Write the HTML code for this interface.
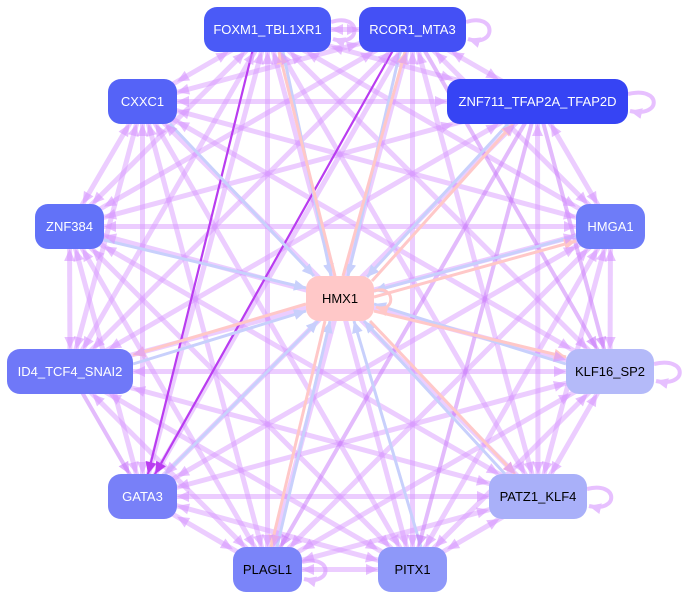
<!DOCTYPE html>
<html>
<head>
<meta charset="utf-8">
<style>
  html,body{margin:0;padding:0;background:#fff;}
  body{width:686px;height:599px;overflow:hidden;}
  svg{display:block;}
  text{font-family:"Liberation Sans",Arial,sans-serif;font-size:13px;}
</style>
</head>
<body>
<svg id="s" width="686" height="599" viewBox="0 0 686 599" xmlns="http://www.w3.org/2000/svg">
  <defs>
    <marker id="mb" markerUnits="userSpaceOnUse" markerWidth="13" markerHeight="11" refX="12" refY="5.5" orient="auto">
      <path d="M0,0 L12,5.5 L0,11 z" fill="#c8d0fc"/>
    </marker>
    <marker id="mp" markerUnits="userSpaceOnUse" markerWidth="13" markerHeight="11" refX="12" refY="5.5" orient="auto">
      <path d="M0,0 L12,5.5 L0,11 z" fill="#ffc8c8"/>
    </marker>
    <marker id="ml" markerUnits="userSpaceOnUse" markerWidth="13" markerHeight="11" refX="12" refY="5.5" orient="auto">
      <path d="M0,0 L12,5.5 L0,11 z" fill="#e6c0ff"/>
    </marker>
  </defs>

  <g id="pe" stroke="rgb(215,150,255)" stroke-opacity="0.48" stroke-width="5" fill="none">
    <line x1="267.5" y1="29.5" x2="412.5" y2="29.5"/>
    <line x1="267.5" y1="29.5" x2="537.5" y2="101.5"/>
    <line x1="267.5" y1="29.5" x2="142.5" y2="101.5"/>
    <line x1="267.5" y1="29.5" x2="69.5" y2="226.5"/>
    <line x1="267.5" y1="29.5" x2="610.5" y2="226.5"/>
    <line x1="267.5" y1="29.5" x2="70" y2="371.5"/>
    <line x1="267.5" y1="29.5" x2="610" y2="371.5"/>
    <line x1="267.5" y1="29.5" x2="538" y2="496.5"/>
    <line x1="267.5" y1="29.5" x2="267.5" y2="569.5"/>
    <line x1="267.5" y1="29.5" x2="412.5" y2="569.5"/>
    <line x1="267.5" y1="29.5" x2="142.5" y2="496.5"/>
    <line x1="412.5" y1="29.5" x2="537.5" y2="101.5"/>
    <line x1="412.5" y1="29.5" x2="142.5" y2="101.5"/>
    <line x1="412.5" y1="29.5" x2="69.5" y2="226.5"/>
    <line x1="412.5" y1="29.5" x2="610.5" y2="226.5"/>
    <line x1="412.5" y1="29.5" x2="70" y2="371.5"/>
    <line x1="412.5" y1="29.5" x2="538" y2="496.5"/>
    <line x1="412.5" y1="29.5" x2="267.5" y2="569.5"/>
    <line x1="412.5" y1="29.5" x2="412.5" y2="569.5"/>
    <line x1="412.5" y1="29.5" x2="142.5" y2="496.5"/>
    <line x1="537.5" y1="101.5" x2="142.5" y2="101.5"/>
    <line x1="537.5" y1="101.5" x2="69.5" y2="226.5"/>
    <line x1="537.5" y1="101.5" x2="610.5" y2="226.5"/>
    <line x1="537.5" y1="101.5" x2="70" y2="371.5"/>
    <line x1="537.5" y1="101.5" x2="142.5" y2="496.5"/>
    <line x1="537.5" y1="101.5" x2="538" y2="496.5"/>
    <line x1="142.5" y1="101.5" x2="69.5" y2="226.5"/>
    <line x1="142.5" y1="101.5" x2="610.5" y2="226.5"/>
    <line x1="142.5" y1="101.5" x2="70" y2="371.5"/>
    <line x1="142.5" y1="101.5" x2="610" y2="371.5"/>
    <line x1="142.5" y1="101.5" x2="142.5" y2="496.5"/>
    <line x1="142.5" y1="101.5" x2="538" y2="496.5"/>
    <line x1="142.5" y1="101.5" x2="267.5" y2="569.5"/>
    <line x1="142.5" y1="101.5" x2="412.5" y2="569.5"/>
    <line x1="69.5" y1="226.5" x2="610.5" y2="226.5"/>
    <line x1="69.5" y1="226.5" x2="70" y2="371.5"/>
    <line x1="69.5" y1="226.5" x2="610" y2="371.5"/>
    <line x1="69.5" y1="226.5" x2="142.5" y2="496.5"/>
    <line x1="69.5" y1="226.5" x2="538" y2="496.5"/>
    <line x1="69.5" y1="226.5" x2="267.5" y2="569.5"/>
    <line x1="69.5" y1="226.5" x2="412.5" y2="569.5"/>
    <line x1="610.5" y1="226.5" x2="70" y2="371.5"/>
    <line x1="610.5" y1="226.5" x2="610" y2="371.5"/>
    <line x1="610.5" y1="226.5" x2="142.5" y2="496.5"/>
    <line x1="610.5" y1="226.5" x2="538" y2="496.5"/>
    <line x1="610.5" y1="226.5" x2="267.5" y2="569.5"/>
    <line x1="610.5" y1="226.5" x2="412.5" y2="569.5"/>
    <line x1="70" y1="371.5" x2="610" y2="371.5"/>
    <line x1="70" y1="371.5" x2="538" y2="496.5"/>
    <line x1="70" y1="371.5" x2="267.5" y2="569.5"/>
    <line x1="70" y1="371.5" x2="412.5" y2="569.5"/>
    <line x1="610" y1="371.5" x2="142.5" y2="496.5"/>
    <line x1="610" y1="371.5" x2="538" y2="496.5"/>
    <line x1="610" y1="371.5" x2="267.5" y2="569.5"/>
    <line x1="610" y1="371.5" x2="412.5" y2="569.5"/>
    <line x1="142.5" y1="496.5" x2="538" y2="496.5"/>
    <line x1="142.5" y1="496.5" x2="267.5" y2="569.5"/>
    <line x1="142.5" y1="496.5" x2="412.5" y2="569.5"/>
    <line x1="538" y1="496.5" x2="267.5" y2="569.5"/>
    <line x1="538" y1="496.5" x2="412.5" y2="569.5"/>
    <line x1="267.5" y1="569.5" x2="412.5" y2="569.5"/>
  </g>

  <g id="pm" stroke="rgb(200,120,250)" stroke-opacity="0.5" stroke-width="4" fill="none">
    <line x1="537.5" y1="101.5" x2="267.5" y2="569.5"/>
    <line x1="537.5" y1="101.5" x2="412.5" y2="569.5"/>
    <line x1="412.5" y1="29.5" x2="610" y2="371.5"/>
    <line x1="537.5" y1="101.5" x2="610" y2="371.5"/>
    <line x1="70" y1="371.5" x2="142.5" y2="496.5"/>
  </g>

  <g id="pb" stroke="#b93cf0" stroke-width="2.2" fill="none">
    <line x1="254" y1="45" x2="142.5" y2="496.5"/>
    <line x1="396" y1="45" x2="142.5" y2="496.5"/>
  </g>

  <g stroke="#c8d0fc" stroke-width="3" fill="none" marker-end="url(#mb)">
    <line x1="170" y1="124" x2="314" y2="276"/>
    <line x1="104" y1="240" x2="306" y2="288"/>
    <line x1="283" y1="52" x2="331" y2="276"/>
    <line x1="400" y1="52" x2="348" y2="276"/>
    <line x1="508" y1="124" x2="367" y2="277"/>
    <line x1="576" y1="236" x2="374" y2="291"/>
    <line x1="566" y1="364" x2="374" y2="304"/>
    <line x1="133" y1="364" x2="306" y2="311"/>
    <line x1="165" y1="474" x2="318" y2="321"/>
    <line x1="277" y1="547" x2="330" y2="321"/>
    <line x1="421" y1="547" x2="354" y2="321"/>
    <line x1="505" y1="474" x2="364" y2="321"/>
  </g>
  <g stroke="#ffc8c8" stroke-width="3" fill="none" marker-end="url(#mp)">
    <line x1="335" y1="276" x2="279" y2="52"/>
    <line x1="343" y1="276" x2="405" y2="52"/>
    <line x1="372" y1="281" x2="513" y2="124"/>
    <line x1="374" y1="297" x2="576" y2="241"/>
    <line x1="374" y1="311" x2="566" y2="357"/>
    <line x1="370" y1="321" x2="515" y2="474"/>
    <line x1="325" y1="321" x2="271" y2="547"/>
    <line x1="306" y1="304" x2="133" y2="355"/>
  </g>

  <g id="ah"></g>

  <g stroke="rgb(215,150,255)" stroke-opacity="0.6" stroke-width="4" fill="none" marker-end="url(#ml)">
    <path d="M331,22 C362,12 362,48 333,39"/>
    <path d="M466,22 C497,12 497,48 468,39"/>
    <path d="M628,94 C662,86 662,118 630,111"/>
    <path d="M654,364 C688,356 688,388 656,381"/>
    <path d="M587,489 C619,481 619,513 589,506"/>
    <path d="M302,562 C333,554 333,586 304,579"/>
  </g>
  <path d="M374,291 C396,284 396,314 376,307" stroke="#ffc8c8" stroke-width="3" fill="none" marker-end="url(#mp)"/>

  <g>
    <rect x="204" y="7" width="127" height="45" rx="13" fill="#4a5af7"/>
    <text x="267.5" y="34" text-anchor="middle" fill="#fff">FOXM1_TBL1XR1</text>
    <rect x="359" y="7" width="107" height="45" rx="13" fill="#4450f5"/>
    <text x="412.5" y="34" text-anchor="middle" fill="#fff">RCOR1_MTA3</text>
    <rect x="447" y="79" width="181" height="45" rx="13" fill="#3644f4"/>
    <text x="537.5" y="106" text-anchor="middle" fill="#fff">ZNF711_TFAP2A_TFAP2D</text>
    <rect x="108" y="79" width="69" height="45" rx="13" fill="#5563f7"/>
    <text x="142.5" y="106" text-anchor="middle" fill="#fff">CXXC1</text>
    <rect x="35" y="204" width="69" height="45" rx="13" fill="#6272f8"/>
    <text x="69.5" y="231" text-anchor="middle" fill="#fff">ZNF384</text>
    <rect x="576" y="204" width="69" height="45" rx="13" fill="#6e7cf8"/>
    <text x="610.5" y="231" text-anchor="middle" fill="#fff">HMGA1</text>
    <rect x="306" y="276" width="68" height="45" rx="13" fill="#ffc8c8"/>
    <text x="340" y="303" text-anchor="middle" fill="#000">HMX1</text>
    <rect x="7" y="349" width="126" height="45" rx="13" fill="#6f78f8"/>
    <text x="70" y="376" text-anchor="middle" fill="#fff">ID4_TCF4_SNAI2</text>
    <rect x="566" y="349" width="88" height="45" rx="13" fill="#b4baf9"/>
    <text x="610" y="376" text-anchor="middle" fill="#000">KLF16_SP2</text>
    <rect x="108" y="474" width="69" height="45" rx="13" fill="#7880f8"/>
    <text x="142.5" y="501" text-anchor="middle" fill="#fff">GATA3</text>
    <rect x="489" y="474" width="98" height="45" rx="13" fill="#a9b0f9"/>
    <text x="538" y="501" text-anchor="middle" fill="#000">PATZ1_KLF4</text>
    <rect x="233" y="547" width="69" height="45" rx="13" fill="#7a84f9"/>
    <text x="267.5" y="574" text-anchor="middle" fill="#000">PLAGL1</text>
    <rect x="378" y="547" width="69" height="45" rx="13" fill="#8e98f9"/>
    <text x="412.5" y="574" text-anchor="middle" fill="#000">PITX1</text>
  </g>
</svg>
<script>
(function(){
  var N=[[267.5,29.5,63.5,22.5],[412.5,29.5,53.5,22.5],[537.5,101.5,90.5,22.5],[142.5,101.5,34.5,22.5],
         [69.5,226.5,34.5,22.5],[610.5,226.5,34.5,22.5],[70,371.5,63,22.5],[610,371.5,44,22.5],
         [142.5,496.5,34.5,22.5],[538,496.5,49,22.5],[267.5,569.5,34.5,22.5],[412.5,569.5,34.5,22.5]];
  function find(x,y){for(var i=0;i<N.length;i++){if(Math.abs(N[i][0]-x)<1&&Math.abs(N[i][1]-y)<1)return N[i];}return null;}
  var ns="http://www.w3.org/2000/svg",ah=document.getElementById('ah');
  function head(n,ox,oy,fill,op){
    var dx=ox-n[0],dy=oy-n[1];
    var t=Math.min(dx?n[2]/Math.abs(dx):1e9,dy?n[3]/Math.abs(dy):1e9);
    var tx=n[0]+dx*t,ty=n[1]+dy*t,len=Math.sqrt(dx*dx+dy*dy),ux=dx/len,uy=dy/len;
    var bx=tx+ux*12,by=ty+uy*12,px=-uy*5.5,py=ux*5.5;
    var p=document.createElementNS(ns,'polygon');
    p.setAttribute('points',tx+','+ty+' '+(bx+px)+','+(by+py)+' '+(bx-px)+','+(by-py));
    p.setAttribute('fill',fill);p.setAttribute('fill-opacity',op);
    ah.appendChild(p);
  }
  function proc(id,fill,op,both){
    var ls=document.querySelectorAll('#'+id+' line');
    for(var i=0;i<ls.length;i++){
      var l=ls[i],x1=+l.getAttribute('x1'),y1=+l.getAttribute('y1'),x2=+l.getAttribute('x2'),y2=+l.getAttribute('y2');
      var a=find(x1,y1),b=find(x2,y2);
      if(b)head(b,x1,y1,fill,op);
      if(both&&a)head(a,x2,y2,fill,op);
    }
  }
  proc('pe','rgb(215,150,255)',0.6,true);
  proc('pm','rgb(200,120,250)',0.6,false);
  proc('pb','#b93cf0',1,false);
})();
</script>
</body>
</html>
